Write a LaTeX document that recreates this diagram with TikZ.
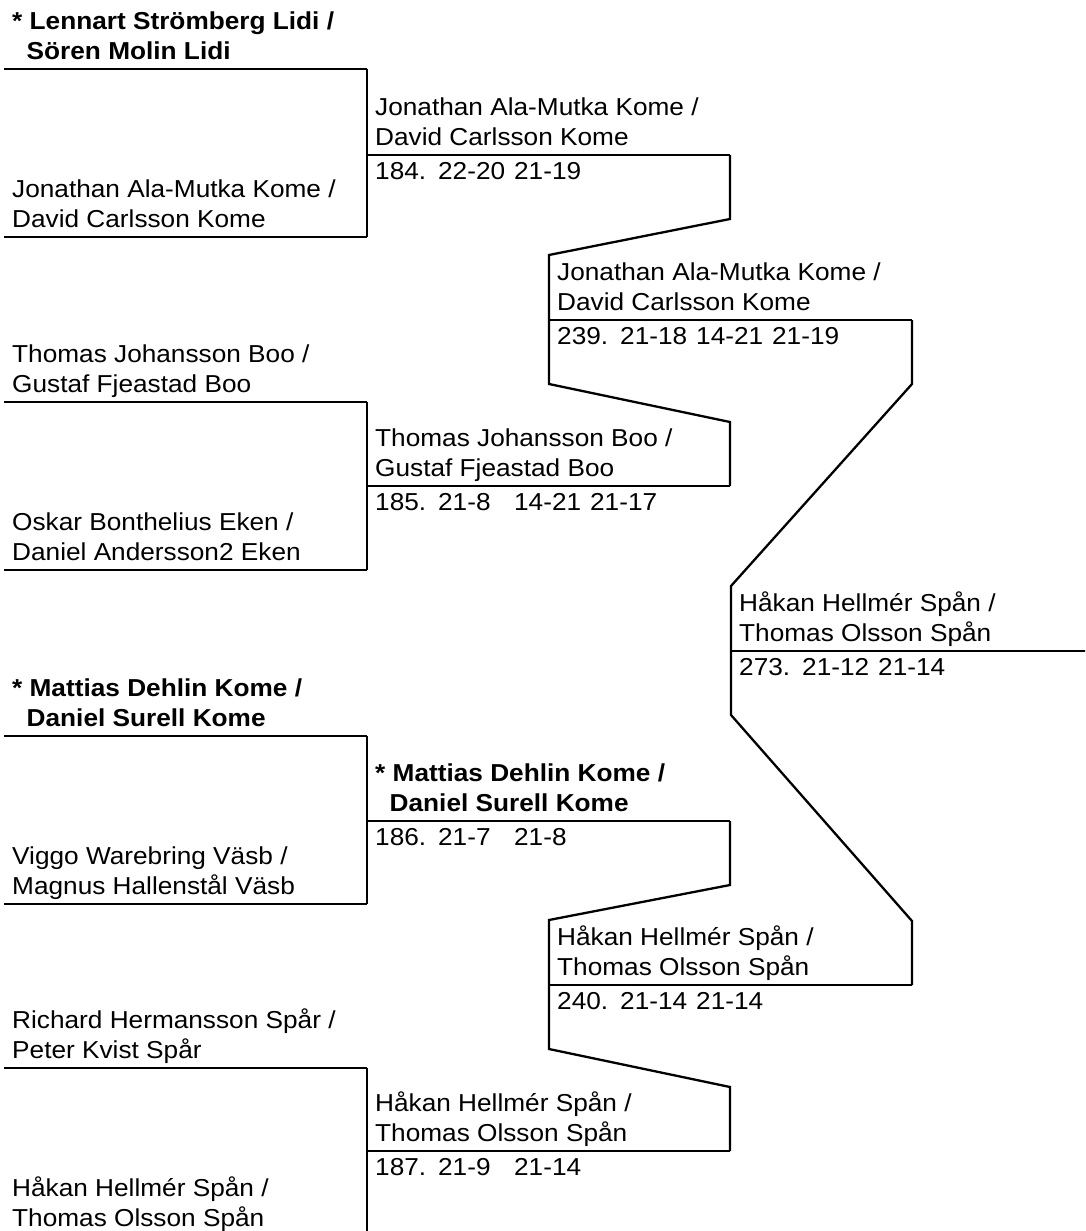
\documentclass[tikz,border=0pt]{standalone}
\usepackage{fontspec}
\setmainfont{Liberation Sans}[FakeStretch=1.07]
\usepackage{tikz}
\tikzstyle{brline}=[line width=2.3pt]
\tikzstyle{brname}=[anchor=south west, inner sep=0pt, xshift=8pt, align=left]
\tikzstyle{brscore}=[anchor=base west, inner sep=0pt, xshift=8pt, yshift=-24pt]
\newcommand{\brslot}[4]{
	\coordinate (#1) at (#2);
	\coordinate (#1e) at (#3);
	\draw[brline] (#1) -- (#1e);
	\node[brname] (#1n) at (#1) {#4\strut};}
\newcommand{\brmatch}[5]{
	\brslot{#1}{#2}{#3}{#4}
	\node[brscore] (#1s) at (#1) {#5};}
\newcommand{\brjoin}[3]{
	\draw[brline] (#1e) -- ([yshift=-64pt]#1e) -- ([yshift=65pt]#3) -- ([yshift=-64pt]#3) -- ([yshift=64pt]#2e) -- (#2e);}
\newcommand{\mno}[1]{\makebox[63pt][l]{#1}}
\newcommand{\gm}[1]{\makebox[76pt][l]{#1}}
\begin{document}
\begin{tikzpicture}[x=1pt, y=-1pt, font=\fontsize{24.5}{30}\selectfont]
	\clip (0,0) rectangle (1085,1231);
	\brslot{a1}{4,69}{367,69}{\bfseries * Lennart Strömberg Lidi /\\\hspace*{14.5pt}\bfseries Sören Molin Lidi}
	\brslot{a2}{4,237}{367,237}{Jonathan Ala-Mutka Kome /\\David Carlsson Kome}
	\brslot{a3}{4,402}{367,402}{Thomas Johansson Boo /\\Gustaf Fjeastad Boo}
	\brslot{a4}{4,570}{367,570}{Oskar Bonthelius Eken /\\Daniel Andersson2 Eken}
	\brslot{a5}{4,736}{367,736}{\bfseries * Mattias Dehlin Kome /\\\hspace*{14.5pt}\bfseries Daniel Surell Kome}
	\brslot{a6}{4,904}{367,904}{Viggo Warebring Väsb /\\Magnus Hallenstål Väsb}
	\brslot{a7}{4,1068}{367,1068}{Richard Hermansson Spår /\\Peter Kvist Spår}
	\brslot{a8}{4,1236}{367,1236}{Håkan Hellmér Spån /\\Thomas Olsson Spån}
	
	\brmatch{b1}{367,155}{730,155}{Jonathan Ala-Mutka Kome /\\David Carlsson Kome}{\mno{184.}\gm{22-20}21-19}
	\brmatch{b2}{367,486}{730,486}{Thomas Johansson Boo /\\Gustaf Fjeastad Boo}{\mno{185.}\gm{21-8}\gm{14-21}21-17}
	\brmatch{b3}{367,821}{730,821}{\bfseries * Mattias Dehlin Kome /\\\hspace*{14.5pt}\bfseries Daniel Surell Kome}{\mno{186.}\gm{21-7}21-8}
	\brmatch{b4}{367,1151}{730,1151}{Håkan Hellmér Spån /\\Thomas Olsson Spån}{\mno{187.}\gm{21-9}21-14}
	
	\brmatch{c1}{549,320}{912,320}{Jonathan Ala-Mutka Kome /\\David Carlsson Kome}{\mno{239.}\gm{21-18}\gm{14-21}21-19}
	\brmatch{c2}{549,985}{912,985}{Håkan Hellmér Spån /\\Thomas Olsson Spån}{\mno{240.}\gm{21-14}21-14}
	
	\brmatch{d1}{731,651}{1094,651}{Håkan Hellmér Spån /\\Thomas Olsson Spån}{\mno{273.}\gm{21-12}21-14}
	
	\draw[brline] (a1e) -- (a2e);
	\draw[brline] (a3e) -- (a4e);
	\draw[brline] (a5e) -- (a6e);
	\draw[brline] (a7e) -- (a8e);
	\brjoin{b1}{b2}{c1}
	\brjoin{b3}{b4}{c2}
	\brjoin{c1}{c2}{d1}
\end{tikzpicture}
\end{document}
